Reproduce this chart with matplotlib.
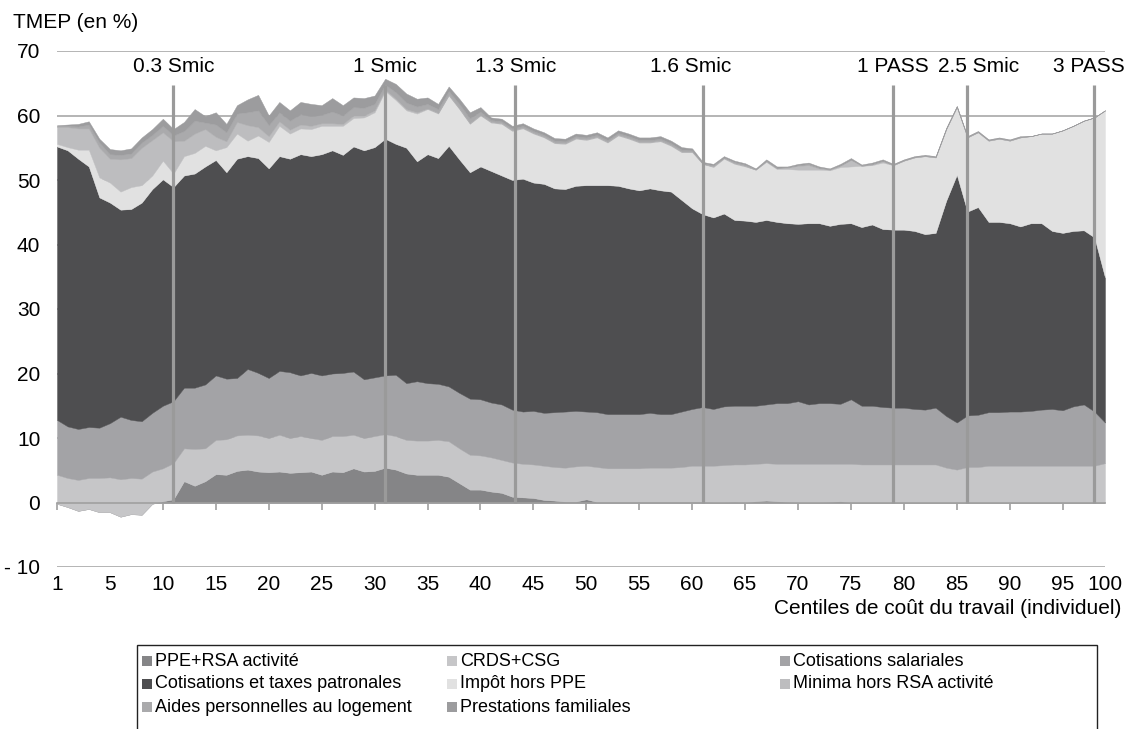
import numpy as np
import matplotlib.pyplot as plt
from matplotlib.patches import Rectangle

plt.rcParams['font.family'] = ['Liberation Sans', 'DejaVu Sans']

# centiles de coût du travail
centiles = np.arange(1, 101)

# contributions au TMEP (en points)
ppe_rsa = [-0.2, -0.7, -1.3, -1.0, -1.5, -1.5, -2.2, -1.8, -1.9, -0.2,
           0.2, 0.5, 3.3, 2.6, 3.3, 4.4, 4.3, 4.9, 5.1, 4.8,
           4.7, 4.8, 4.6, 4.7, 4.8, 4.3, 4.8, 4.7, 5.3, 4.8,
           4.9, 5.4, 5.1, 4.5, 4.3, 4.3, 4.3, 4.0, 3.0, 2.0,
           2.0, 1.7, 1.5, 0.9, 0.8, 0.7, 0.4, 0.3, 0.15, 0.15,
           0.5, 0.1, 0.1, 0.1, 0.1, 0.1, 0.1, 0.1, 0.1, 0.1,
           0.1, 0.1, 0.0, 0.0, 0.1, 0.0, 0.2, 0.3, 0.2, 0.1,
           0.0, 0.0, 0.0, 0.1, 0.2, 0.0, 0.0, 0.0, 0.0, 0.0,
           0.0, 0.0, 0.0, 0.0, 0.0, 0.0, 0.0, 0.0, 0.0, 0.0,
           0.0, 0.0, 0.0, 0.0, 0.0, 0.0, 0.0, 0.0, 0.0, 0.0]
crds_csg = [4.5, 4.5, 4.8, 4.8, 5.3, 5.4, 5.8, 5.6, 5.6, 5.0,
            5.1, 5.6, 5.1, 5.7, 5.1, 5.3, 5.5, 5.5, 5.4, 5.6,
            5.3, 5.7, 5.4, 5.6, 5.2, 5.4, 5.5, 5.6, 5.2, 5.2,
            5.4, 5.2, 5.2, 5.2, 5.3, 5.3, 5.4, 5.5, 5.4, 5.4,
            5.3, 5.3, 5.1, 5.3, 5.2, 5.2, 5.3, 5.2, 5.25, 5.45,
            5.2, 5.4, 5.2, 5.2, 5.2, 5.2, 5.3, 5.3, 5.3, 5.4,
            5.6, 5.6, 5.7, 5.8, 5.8, 5.9, 5.8, 5.8, 5.8, 5.9,
            6.0, 6.0, 6.0, 5.9, 5.8, 6.0, 5.9, 5.9, 5.9, 5.9,
            5.9, 5.9, 5.9, 5.9, 5.4, 5.1, 5.5, 5.5, 5.7, 5.7,
            5.7, 5.7, 5.7, 5.7, 5.7, 5.7, 5.7, 5.7, 5.7, 6.1]
cot_sal = [8.5, 8.0, 7.9, 7.9, 7.8, 8.4, 9.7, 9.0, 8.9, 9.1,
           9.7, 9.6, 9.4, 9.5, 9.9, 10.0, 9.4, 8.9, 10.2, 9.7,
           9.3, 9.9, 10.2, 9.4, 10.1, 10.0, 9.7, 9.8, 9.8, 9.1,
           9.1, 9.1, 9.5, 8.8, 9.2, 8.9, 8.7, 8.5, 8.6, 8.7,
           8.7, 8.5, 8.6, 8.2, 8.1, 8.3, 8.2, 8.5, 8.7, 8.6,
           8.4, 8.5, 8.4, 8.4, 8.4, 8.4, 8.5, 8.3, 8.3, 8.6,
           8.8, 9.1, 8.8, 9.1, 9.1, 9.1, 9.0, 9.1, 9.4, 9.4,
           9.7, 9.2, 9.4, 9.4, 9.3, 10.0, 9.1, 9.1, 8.9, 8.8,
           8.8, 8.6, 8.5, 8.8, 8.0, 7.3, 8.0, 8.1, 8.3, 8.3,
           8.4, 8.4, 8.5, 8.7, 8.8, 8.6, 9.2, 9.5, 8.4, 6.3]
cot_pat = [42.4, 42.8, 41.9, 40.4, 35.7, 34.2, 32.1, 32.7, 33.9, 34.7,
           35.1, 33.2, 32.9, 33.2, 33.8, 33.4, 32.0, 34.0, 33.0, 33.3,
           32.5, 33.3, 33.1, 34.3, 33.6, 34.3, 34.6, 33.8, 34.9, 35.5,
           35.7, 36.7, 35.8, 36.5, 34.1, 35.5, 35.0, 37.3, 36.2, 35.1,
           36.1, 35.9, 35.5, 35.6, 36.1, 35.4, 35.5, 34.7, 34.5, 34.9,
           35.1, 35.2, 35.5, 35.4, 35.0, 34.7, 34.8, 34.7, 34.5, 32.8,
           31.1, 29.9, 29.7, 29.9, 28.8, 28.7, 28.5, 28.6, 28.1, 27.9,
           27.5, 28.1, 27.9, 27.5, 27.9, 27.3, 27.7, 28.1, 27.6, 27.6,
           27.6, 27.6, 27.2, 27.1, 33.4, 38.4, 31.6, 32.2, 29.5, 29.5,
           29.2, 28.7, 29.1, 28.9, 27.6, 27.5, 27.2, 27.0, 27.0, 22.5]
impot = [0.4, 0.5, 1.4, 2.6, 3.1, 3.1, 2.8, 3.4, 2.7, 2.1,
         2.9, 2.1, 3.0, 3.2, 3.2, 1.5, 3.9, 3.9, 2.4, 3.5,
         4.1, 4.7, 3.9, 4.0, 4.2, 4.4, 3.8, 4.5, 4.4, 5.1,
         5.4, 7.4, 6.8, 5.8, 7.4, 7.0, 6.9, 7.8, 7.8, 7.5,
         7.9, 7.5, 8.0, 7.6, 7.8, 7.6, 7.2, 7.0, 7.0, 7.3,
         7.0, 7.4, 6.6, 7.8, 7.7, 7.4, 7.1, 7.6, 7.1, 7.4,
         8.7, 7.8, 7.8, 8.5, 8.7, 8.4, 8.1, 9.0, 8.2, 8.4,
         8.4, 8.3, 8.3, 8.6, 8.8, 8.8, 9.5, 9.2, 10.3, 10.0,
         10.7, 11.4, 12.1, 11.7, 11.1, 10.5, 11.5, 11.6, 12.6, 12.9,
         12.8, 13.8, 13.5, 13.9, 15.1, 15.9, 16.3, 17.0, 18.6, 25.9]
minima = [2.6, 3.1, 3.3, 3.3, 4.6, 3.7, 5.0, 4.5, 5.8, 5.5,
          4.4, 5.0, 2.4, 3.0, 2.6, 2.1, 0.9, 1.8, 2.4, 1.3,
          0.9, 0.7, 0.6, 0.6, 0.5, 0.4, 0.4, 0.3, 0.4, 0.3,
          0.3, 0.2, 0.2, 0.2, 0.2, 0.1, 0.1, 0.1, 0.1, 0.1,
          0.1, 0.1, 0.1, 0.1, 0.1, 0.1, 0.1, 0.1, 0.1, 0.1,
          0.1, 0.1, 0.1, 0.1, 0.1, 0.1, 0.1, 0.1, 0.1, 0.1,
          0.1, 0.0, 0.1, 0.1, 0.1, 0.1, 0.0, 0.1, 0.1, 0.2,
          0.6, 0.7, 0.2, 0.1, 0.2, 1.0, 0.0, 0.1, 0.2, 0.0,
          0.0, 0.0, 0.0, 0.0, 0.0, 0.0, 0.0, 0.0, 0.0, 0.0,
          0.0, 0.0, 0.0, 0.0, 0.0, 0.0, 0.0, 0.0, 0.0, 0.0]
aides_log = [0.2, 0.2, 0.3, 0.6, 0.8, 0.7, 0.7, 0.7, 0.8, 0.8,
             1.0, 0.9, 1.5, 2.0, 1.0, 1.9, 1.4, 1.3, 2.0, 2.6,
             1.7, 1.4, 1.4, 1.6, 1.5, 1.3, 1.8, 1.3, 1.3, 1.2,
             1.0, 0.8, 1.0, 1.0, 0.9, 0.7, 0.6, 0.6, 0.7, 0.8,
             0.5, 0.3, 0.3, 0.3, 0.3, 0.3, 0.3, 0.3, 0.3, 0.3,
             0.3, 0.3, 0.3, 0.3, 0.3, 0.3, 0.3, 0.3, 0.3, 0.3,
             0.2, 0.1, 0.2, 0.1, 0.2, 0.2, 0.1, 0.1, 0.1, 0.1,
             0.1, 0.2, 0.1, 0.1, 0.1, 0.1, 0.1, 0.1, 0.1, 0.1,
             0.1, 0.1, 0.1, 0.1, 0.1, 0.1, 0.1, 0.1, 0.1, 0.1,
             0.1, 0.1, 0.0, 0.0, 0.0, 0.0, 0.0, 0.0, 0.0, 0.0]
prest_fam = [0.1, 0.2, 0.4, 0.5, 0.6, 0.8, 0.7, 0.8, 0.8, 0.9,
             1.1, 1.0, 1.4, 1.8, 1.0, 1.9, 1.3, 1.3, 2.0, 2.4,
             1.5, 1.6, 1.6, 1.9, 1.9, 1.5, 2.1, 1.6, 1.5, 1.5,
             1.3, 0.9, 1.3, 1.4, 1.2, 1.0, 0.8, 0.7, 0.8, 0.9,
             0.7, 0.4, 0.4, 0.4, 0.4, 0.4, 0.4, 0.4, 0.4, 0.4,
             0.4, 0.4, 0.4, 0.4, 0.4, 0.4, 0.4, 0.4, 0.4, 0.4,
             0.3, 0.2, 0.2, 0.2, 0.2, 0.2, 0.1, 0.2, 0.2, 0.1,
             0.2, 0.2, 0.2, 0.1, 0.2, 0.2, 0.1, 0.2, 0.2, 0.1,
             0.1, 0.1, 0.1, 0.1, 0.1, 0.1, 0.1, 0.1, 0.1, 0.1,
             0.1, 0.1, 0.0, 0.0, 0.0, 0.0, 0.0, 0.0, 0.0, 0.0]

series_names = ['PPE+RSA activité', 'CRDS+CSG', 'Cotisations salariales',
                'Cotisations et taxes patronales', 'Impôt hors PPE',
                'Minima hors RSA activité', 'Aides personnelles au logement',
                'Prestations familiales']
series = [ppe_rsa, crds_csg, cot_sal, cot_pat, impot, minima, aides_log, prest_fam]
colors = ['#858587', '#c6c6c8', '#a3a3a6', '#4e4e50', '#e1e1e1',
          '#bdbdbf', '#aaaaac', '#9c9c9e']

# axe des x : graduations tous les 5 centiles
tick_pos = [1, 6, 11, 16, 21, 26, 31, 36, 41, 46, 51, 56, 61, 66, 71, 76,
            81, 86, 91, 96, 100]
tick_labels = ['1', '5', '10', '15', '20', '25', '30', '35', '40', '45', '50',
               '55', '60', '65', '70', '75', '80', '85', '90', '95', '100']

# seuils de salaire
seuil_names = ['0.3 Smic', '1 Smic', '1.3 Smic', '1.6 Smic', '1 PASS',
               '2.5 Smic', '3 PASS']
seuil_pos = [12, 32, 44.3, 62, 80, 87, 99]
seuil_shift = [0, 0, 0, -1.1, 0, 1.1, -0.5]

W, H = 1129, 729
fig = plt.figure(figsize=(W / 100, H / 100), dpi=100)
ax = fig.add_axes([57 / W, 1 - 567 / H, (1105 - 57) / W, (567 - 51) / H])

ax.stackplot(centiles, *series, colors=colors, linewidth=0.3,
             edgecolor='face', zorder=2)

ax.set_xlim(1, 100)
ax.set_ylim(-10, 70)
ax.set_yticks(range(-10, 80, 10))
ax.set_yticklabels(['- 10'] + [str(v) for v in range(0, 80, 10)])
ax.yaxis.grid(True, color='#a8a8a8', linewidth=1.2)
ax.set_axisbelow(True)

for side in ['left', 'right', 'top']:
    ax.spines[side].set_visible(False)
ax.spines['bottom'].set_position(('data', 0))
ax.spines['bottom'].set_color('#a0a0a0')
ax.spines['bottom'].set_linewidth(1.2)
ax.spines['bottom'].set_zorder(3)

ax.set_xticks(tick_pos)
ax.set_xticklabels(tick_labels)
ax.tick_params(axis='x', length=5, width=1.2, color='#a0a0a0', pad=47,
               labelsize=15)
ax.xaxis.get_major_ticks()[-1].tick1line.set_visible(False)
ax.tick_params(axis='y', length=0, pad=12, labelsize=15)

ax.vlines(seuil_pos, 0, 64.8, color='#9a9a9a', linewidth=2.3, zorder=4)
for name, pos, dx in zip(seuil_names, seuil_pos, seuil_shift):
    ax.text(pos + dx, 67.6, name, ha='center', va='center', fontsize=15)

fig.text(13 / W, 1 - 22 / H, 'TMEP (en %)', fontsize=15, va='center')
fig.text(1121 / W, 1 - 608 / H, 'Centiles de coût du travail (individuel)',
         ha='right', va='center', fontsize=15)

# légende dessinée à la main (ordre ligne par ligne)
fig.patches.append(Rectangle((137 / W, -0.02), (1097 - 137) / W,
                             0.02 + 1 - 645 / H, transform=fig.transFigure,
                             fill=False, edgecolor='#222222', linewidth=1))
col_x = [142, 447, 780]
row_y = [661, 684, 707]
for i, (name, col) in enumerate(zip(series_names, colors)):
    x = col_x[i % 3]
    y = row_y[i // 3]
    fig.patches.append(Rectangle((x / W, 1 - (y + 5) / H), 10 / W, 10 / H,
                                 transform=fig.transFigure, facecolor=col,
                                 edgecolor='none'))
    fig.text((x + 13) / W, 1 - y / H, name, fontsize=13, va='center')

fig.savefig('out.png', dpi=100)
